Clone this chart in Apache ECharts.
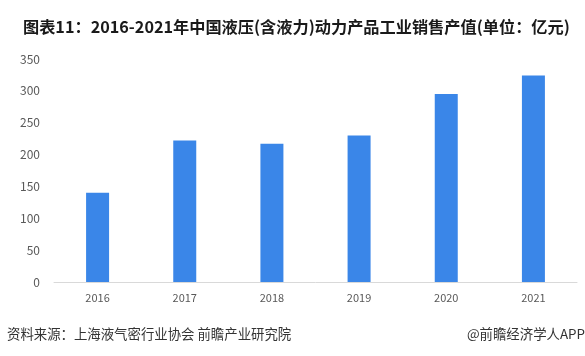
<!DOCTYPE html>
<html><head><meta charset="utf-8">
<script src="https://cdn.jsdelivr.net/npm/echarts@6/dist/echarts.min.js"></script>
<style>html,body{margin:0;padding:0;background:#fff}#c{width:585px;height:356px}</style>
</head><body><div id="c"></div>
<script>
const categories = ['2016','2017','2018','2019','2020','2021'];
const values = [140, 222, 217, 230, 295, 324];
const yTicks = [0, 50, 100, 150, 200, 250, 300, 350];
const titleText = '图表11：2016-2021年中国液压(含液力)动力产品工业销售产值(单位：亿元)';
const sourceText = '资料来源：上海液气密行业协会 前瞻产业研究院';
const brandText = '@前瞻经济学人APP';

const chart = echarts.init(document.getElementById('c'), null, {renderer:'canvas'});
const font = '"Noto Sans CJK SC", "Microsoft YaHei", sans-serif';
chart.setOption({
  animation:false,
  backgroundColor:'#fff',
  title:{text:titleText, left:18, top:14,
    textStyle:{fontFamily:font, fontSize:16.2, fontWeight:'bold', color:'#1a1a1a'}},
  graphic:[
    {type:'text', left:7, top:327, style:{text:sourceText, font:'13.4px '+font, fill:'#333'}},
    {type:'text', right:0, top:327, style:{text:brandText, font:'13.4px '+font, fill:'#333'}}
  ],
  grid:{left:54, right:8, top:59, bottom:74},
  xAxis:{type:'category', data:categories,
    axisLine:{lineStyle:{color:'#d9d9d9'}}, axisTick:{show:false},
    axisLabel:{color:'#595959', fontSize:11, margin:10, fontFamily:font}},
  yAxis:{type:'value', min:yTicks[0], max:yTicks[yTicks.length-1], interval:50,
    axisLine:{show:false}, axisTick:{show:false}, splitLine:{show:false},
    axisLabel:{color:'#595959', fontSize:12, margin:14, fontFamily:font}},
  series:[{type:'bar', data:values, barWidth:23, itemStyle:{color:'#3a86e8'}}]
});
</script></body></html>
